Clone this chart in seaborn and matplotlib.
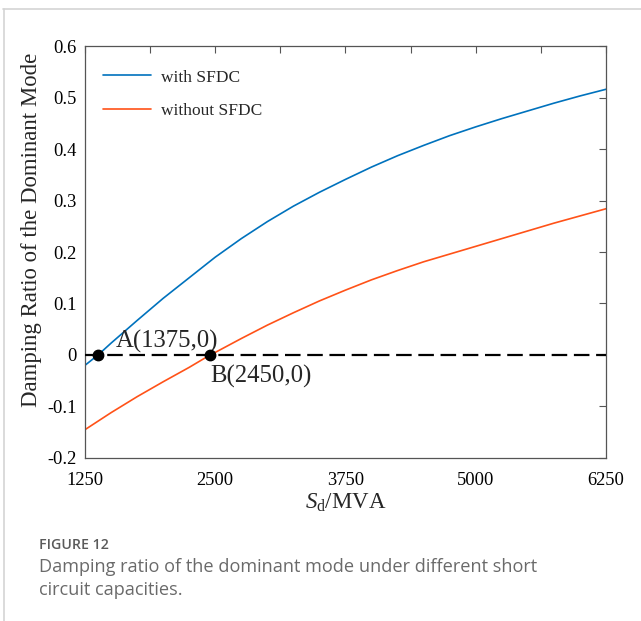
import matplotlib
matplotlib.use("Agg")
import matplotlib.pyplot as plt
from matplotlib.lines import Line2D
from matplotlib.ticker import MultipleLocator, FixedLocator
import pandas as pd
import seaborn as sns

# Short-circuit capacity (MVA) and damping ratio of the dominant mode
s_with = [1250, 1375, 1500, 1750, 2000, 2250, 2500, 2750, 3000, 3250, 3500, 3750,
          4000, 4250, 4500, 4750, 5000, 5250, 5500, 5750, 6000, 6250]
zeta_with = [-0.020, 0.000, 0.023, 0.067, 0.110, 0.150, 0.190, 0.226, 0.259, 0.289,
             0.316, 0.341, 0.365, 0.387, 0.407, 0.426, 0.443, 0.459, 0.474, 0.489,
             0.503, 0.516]

s_without = [1250, 1500, 1750, 2000, 2250, 2450, 2500, 2750, 3000, 3250, 3500, 3750,
             4000, 4250, 4500, 4750, 5000, 5250, 5500, 5750, 6000, 6250]
zeta_without = [-0.145, -0.112, -0.081, -0.052, -0.024, 0.000, 0.005, 0.032, 0.058,
                0.082, 0.105, 0.126, 0.146, 0.164, 0.181, 0.196, 0.211, 0.226, 0.241,
                0.256, 0.270, 0.284]

series_names = ["with SFDC", "without SFDC"]
series_colors = ["#0072BD", "#FF5218"]

# Critical points where damping becomes zero
crit_s = [1375, 2450]
crit_labels = ["A(1375,0)", "B(2450,0)"]

x_ticks = [1250, 2500, 3750, 5000, 6250]
y_ticks = [-0.2, -0.1, 0, 0.1, 0.2, 0.3, 0.4, 0.5, 0.6]
y_tick_labels = ["-0.2", "-0.1", "0", "0.1", "0.2", "0.3", "0.4", "0.5", "0.6"]

df = pd.concat([
    pd.DataFrame({"S": s_with, "zeta": zeta_with, "case": series_names[0]}),
    pd.DataFrame({"S": s_without, "zeta": zeta_without, "case": series_names[1]}),
])

sns.set_theme(style="white")
plt.rcParams["font.family"] = ["Liberation Serif", "DejaVu Serif"]
plt.rcParams["mathtext.fontset"] = "custom"
plt.rcParams["mathtext.rm"] = "Liberation Serif"
plt.rcParams["mathtext.it"] = "Liberation Serif:italic"

fig = plt.figure(figsize=(6.41, 6.21), dpi=100)
ax = fig.add_axes([0.1326, 0.2625, 0.8128, 0.6634])

sns.lineplot(data=df, x="S", y="zeta", hue="case", palette=series_colors,
             hue_order=series_names, linewidth=1.2, ax=ax, legend=True)

# zero-damping reference line and critical points
ax.axhline(0, color="black", linestyle=(0, (7.0, 3.0)), linewidth=1.6, zorder=3)
ax.plot(crit_s, [0, 0], "o", color="black", markersize=7.5, zorder=4)
ax.text(1545, 0.026, crit_labels[0], fontsize=17.8, ha="left", va="center")
ax.text(2450, -0.042, crit_labels[1], fontsize=17.8, ha="left", va="center")

ax.set_xlim(1250, 6250)
ax.set_ylim(-0.2, 0.6)
ax.xaxis.set_major_locator(FixedLocator(x_ticks))
ax.xaxis.set_minor_locator(MultipleLocator(625))
ax.set_yticks(y_ticks)
ax.set_yticklabels(y_tick_labels)
ax.set_xticklabels([str(v) for v in x_ticks])

spine_col = "#555555"
for sp in ax.spines.values():
    sp.set_visible(True)
    sp.set_color(spine_col)
    sp.set_linewidth(0.9)
ax.tick_params(axis="both", which="both", direction="in", top=True, right=True,
               color=spine_col, width=0.8, labelsize=13.3, labelcolor="black")
ax.tick_params(axis="both", which="major", length=5, pad=6)
ax.tick_params(axis="x", which="major", pad=10)
ax.tick_params(axis="x", which="minor", length=5)

ax.set_xlabel(r"$\mathit{S}_{\mathrm{d}}$/MVA", fontsize=16.5, labelpad=2)
ax.set_ylabel("Damping Ratio of the Dominant Mode", fontsize=16.4)
ax.yaxis.set_label_coords(-0.082, 0.553)

leg = ax.legend(loc="upper left", frameon=False, fontsize=12.5, handlelength=2.8,
                handletextpad=0.55, labelspacing=1.0, borderaxespad=0.9,
                bbox_to_anchor=(-0.009, 0.998))

# caption beneath the chart
cap_font = ["Open Sans", "DejaVu Sans"]
fig.text(0.061, 0.123, "FIGURE 12", fontsize=10.2, color="#5a5a5a",
         family=cap_font, weight="semibold", va="center")
fig.text(0.061, 0.087, "Damping ratio of the dominant mode under different short",
         fontsize=13.1, color="#6a6a6a", family=cap_font, va="center")
fig.text(0.061, 0.050, "circuit capacities.",
         fontsize=13.1, color="#6a6a6a", family=cap_font, va="center")

# light panel frame
frame_col = "#d4d4d4"
fig.add_artist(Line2D([0.005, 1.0], [0.986, 0.986], color=frame_col, linewidth=1.2,
                      transform=fig.transFigure))
fig.add_artist(Line2D([0.006, 0.006], [0.0, 0.986], color=frame_col, linewidth=1.2,
                      transform=fig.transFigure))

fig.savefig("out.png", dpi=100)
